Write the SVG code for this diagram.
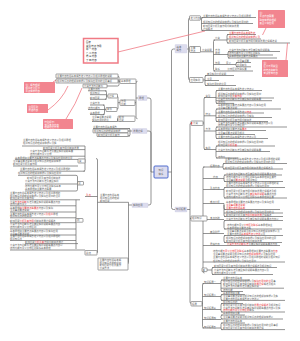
<svg xmlns="http://www.w3.org/2000/svg" width="300" height="341" viewBox="0 0 300 341">
<style>
.t{font-family:"Noto Sans CJK SC","Noto Sans",sans-serif;font-size:2.4px;fill:#666}
.r{fill:#e8363c}
.w{fill:#fff}
.k{fill:#222}
.c{fill:none;stroke:#666;stroke-width:0.7}
.rl{fill:none;stroke:#f07a84;stroke-width:0.8}
.lav{fill:#dcdcee;stroke:#c6c6de;stroke-width:0.3}
.bx{fill:#fff;stroke:#666;stroke-width:0.6}
.pk{fill:#f2858f}
</style>
<rect width="300" height="341" fill="#fff"/>
<g id="connectors">
<path class="c" d="M154 172H151V100Q151 98 149 98H147M151 172V133Q151 131 149 131H147M151 172V203Q151 205 149 205H148"/>
<path class="c" d="M168 172H171.5V51Q171.5 49 173.5 49H175M171.5 172V207.5Q171.5 209.5 173.5 209.5H175"/>
<path class="c" d="M187 49H188.5M190 18Q188.5 18 188.5 19.5V78.5Q188.5 80 190 80"/>
<path class="c" d="M200.5 18H201.5M203 17.5Q201.5 17.5 201.5 19V29Q201.5 30.5 203 30.5M201.5 17.5H256M201.5 23.5H253M201.5 30.5H249"/>
<path class="c" d="M200.5 51.8H213.5M215 40Q213.5 40 213.5 41.5V69.5Q213.5 71 215 71M213.5 40H226M213.5 54.5H227M213.5 64.5H235M213.5 71H226"/>
<path class="c" d="M226 40H227M228.5 34.5Q227 34.5 227 36V41.5Q227 43 228.5 43M227 34.5H256M227 39H261M227 43H290"/>
<path class="c" d="M227 54.5H228M229.5 51.5Q228 51.5 228 53V56.5Q228 58 229.5 58M228 51.5H280M228 55H273M228 58H277"/>
<path class="c" d="M235 64.5H236M237.5 62.5Q236 62.5 236 64V65.3Q236 66.8 237.5 66.8M236 62.5H251M236 66.8H251M226 71H253"/>
<path class="c" d="M203 80H205M206.5 75.5Q205 75.5 205 77V84Q205 85.5 206.5 85.5M205 75.5H234M205 80.5H219M205 85.5H236"/>
<path class="c" d="M138 98H136M137.5 81.3Q136 81.3 136 82.8V117.2Q136 118.7 137.5 118.7M136 102.7H135"/>
<path class="c" d="M120 81.3H119M117.5 76Q119 76 119 77.5V84.5Q119 86 117.5 86M119 81H118M118 76H117.5M107 86H117.5"/>
<path class="c" d="M120 102.7H118M116.5 96Q118 96 118 97.5V108Q118 109.5 116.5 109.5H117M108 96H116.5"/>
<path class="c" d="M108 96H106.5M105 90.8Q106.5 90.8 106.5 92.3V97.8Q106.5 99.3 105 99.3M106.5 90.8H88M106.5 94.7H90M106.5 99.3H90"/>
<path class="c" d="M106 109.5H104.5M103 105Q104.5 105 104.5 106.5V113Q104.5 114.5 103 114.5M104.5 105H90M104.5 109.5H88M104.5 114.5H90"/>
<path class="c" d="M118 118.7H117.5V121.5H92"/>
<path class="c" d="M132 131H130M128.5 128.5Q130 128.5 130 130V134.5Q130 136 128.5 136M130 128.5H93M130 131H128M130 136H97"/>
<path class="c" d="M132 205H128.5M128.5 202.3V262.5Q128.5 264 127 264M128.5 202.3H97.5"/>
<path class="c" d="M97.5 160V252Q97.5 253 96.5 253M97.5 196.5H85M97.5 160Q97.5 158.5 96 158.5"/>
<path class="c" d="M85 146V169.5Q85 171.2 83.5 171.2M22 146H85M43 149.6H85M30 156.2H85M15 159.4H85M13 166H78M20 171.2H85"/>
<path class="c" d="M77.5 176.8V189.5Q77.5 191 76 191M18 175.3H76Q77.5 175.3 77.5 176.8M25 184H77.5M25 191H76"/>
<path class="c" d="M10 199.8H80M10 205.8H76M10 212H76M10 217.8H76M10 222.7H76M10 229H76M10 235H76M10 240.5H76M25 243.6H78M10 250H85M76 199.8V249"/>
<path class="c" d="M187 209.5H190M191.5 123Q190 123 190 124.5V302Q190 303.5 191.5 303.5M190 218.5H191"/>
<path class="c" d="M203 123H204M205.5 97.5Q204 97.5 204 99V148Q204 149.5 205.5 149.5M204 115.8H215M204 131H215M204 97.5H215M204 149.5H215"/>
<path class="c" d="M215 97.5H216M217.5 90.5Q216 90.5 216 92V101.9Q216 103.4 217.5 103.4M216 90.5H262M216 98H274M216 100.7H272M216 103.4H234"/>
<path class="c" d="M215 115.8H216M217.5 109Q216 109 216 110.5V120Q216 121.5 217.5 121.5M216 109H281M216 113H264M216 117.5H272M216 121.5H268"/>
<path class="c" d="M215 131H216M217.5 127Q216 127 216 128.5V137Q216 138.5 217.5 138.5M216 127H287M216 130.5H266M216 134.5H255M216 138.5H268"/>
<path class="c" d="M215 149.5H216M217.5 146Q216 146 216 147.5V156.5Q216 158 217.5 158M216 146H275M216 151.5H270M216 158H238"/>
<path class="c" d="M207 218.5H203M204.5 167Q203 167 203 168.5V271.5Q203 273 204.5 273M203 167H222M203 178.5H222M203 189.5H223M203 203.5H222M203 219.5H222M203 233.5H222M203 245.5H222M203 262H285"/>
<path class="c" d="M222 167H223M224.5 163.5Q223 163.5 223 165V167.5Q223 169 224.5 169M223 163.5H287M223 169H283"/>
<path class="c" d="M222 178.5H224M225.5 175Q224 175 224 176.5V180Q224 181.5 225.5 181.5M224 175H282M224 181.5H283"/>
<path class="c" d="M223 189.5H224M225.5 187.5Q224 187.5 224 189V196.5Q224 198 225.5 198M224 187.5H285M224 198H287"/>
<path class="c" d="M222 203.5H224M225.5 209.5Q224 209.5 224 208V205M224 203.5V215Q224 216.5 225.5 216.5M224 209.5H280M224 213H283M224 216.5H283"/>
<path class="c" d="M222 219.5H224M225.5 220.5Q224 220.5 224 222V227.5Q224 229 225.5 229M224 220.5H283M224 229H282"/>
<path class="c" d="M222 233.5H224M225.5 235.5Q224 235.5 224 237V241Q224 242.5 225.5 242.5M224 235.5H283M224 242.5H282"/>
<path class="c" d="M222 245.5H280"/>
<path class="c" d="M207 270H212M213.5 267.5Q212 267.5 212 269V273Q212 274.5 213.5 274.5M212 267.5H277M212 274.5H273"/>
<path class="c" d="M202 303.5H202.5M204 283.5Q202.5 283.5 202.5 285V326.5Q202.5 328 204 328M202.5 296.5H219M202.5 309.5H219M202.5 319.5H219M202.5 283.5H219"/>
<path class="c" d="M219 283.5H221M222.5 280Q221 280 221 281.5V290Q221 291.5 222.5 291.5M221 280H250M221 288.2H284M221 291.5H243"/>
<path class="c" d="M219 296.5H221M222.5 294.6Q221 294.6 221 296.1V298.9Q221 300.4 222.5 300.4M221 294.6H245M221 300.4H285"/>
<path class="c" d="M219 309.5H221M222.5 303.5Q221 303.5 221 305V310.5Q221 312 222.5 312M221 303.5H243M221 312H285"/>
<path class="c" d="M219 319.5H221M222.5 315Q221 315 221 316.5V317.5Q221 319 222.5 319M221 315H245M221 319H283"/>
<path class="c" d="M202.5 328H221M222.5 323Q221 323 221 324.5V328.1Q221 329.6 222.5 329.6M221 323H245M221 329.6H285"/>
<path class="rl" d="M118 52L205 31M266 28L262.5 35M286 60L287.5 43M53 82L58 79M48 110Q62 100 68 86M66 119Q76 104 82 88"/>
</g>
<g id="center"><rect x="154" y="166" width="14" height="12" rx="1" fill="#dcdcee" stroke="#3f5fc8" stroke-width="0.9"/><text class="t" x="161" y="171.2" text-anchor="middle">知识</text><text class="t" x="161" y="175" text-anchor="middle">体系</text></g>
<g id="n-top"><rect class="lav" x="175" y="44.5" width="12" height="8.5" rx="0.8"/><text class="t" x="176.5" y="48">基本</text><text class="t" x="176.5" y="51.3">概念</text></g>
<g id="n-t1"><rect class="bx" x="189.5" y="15.8" width="11" height="4.4" rx="0.6"/><text class="t" x="190.5" y="18.9">定义内容</text></g>
<g id="t1-leaves"><text class="t" x="203" y="16.8">主要内容包括基本概念定义特点以及相关原理</text><text class="t" x="203" y="22.8">相关知识点的理解和掌握以及实际应用中的</text><text class="t" x="203" y="26.8">影响因素分析及其作用机制和发展</text><text class="t" x="203" y="29.8">过程概述</text></g>
<g id="n-t2"><rect class="bx" x="189.5" y="46.5" width="11" height="6" rx="0.6"/><text class="t" x="190.5" y="49.2">主要</text><text class="t" x="190.5" y="52">特点</text><text class="t" x="202" y="51.2">分类说明</text></g>
<g id="t2-children"><text class="t" x="215" y="39.3">分类</text><text class="t r" x="229" y="33.8">主要内容包括基本概念定</text><text class="t r" x="229" y="38.3">相关知识点的理解和掌握以及</text><text class="t" x="229" y="42.3">影响因素分析及其作用机制和发展过程概述说</text><text class="t" x="215" y="50.8">方法</text><text class="t" x="215" y="53.8">原理</text><text class="t" x="229" y="50.8">分类方法与判断标准及典型实例说明等</text><text class="t" x="229" y="54.3">结构功能与意义比较区别联系</text><text class="t" x="229" y="57.3">基本原理和主要特点等要点</text><text class="t" x="215" y="63.8">作用</text><text class="t" x="226" y="63.8">意义</text><text class="t" x="237" y="61.8">注意事项要</text><text class="t" x="237" y="66.1">应用条件</text><text class="t" x="215" y="70.3">联系</text><text class="t" x="227.5" y="70.3">比较区别与联系要</text></g>
<g id="n-t3"><rect class="bx" x="189.5" y="77.5" width="13.5" height="5" rx="0.6"/><text class="t" x="190.5" y="80.9">应用实例</text><text class="t" x="207" y="74.8">典型实例分析说明</text><text class="t" x="207" y="79.8">注意</text><text class="t" x="207" y="84.8">实际应用中的注意</text></g>
<g id="note-a"><rect class="pk" x="258" y="10" width="27" height="18" rx="0.5"/><text class="t w" x="259.5" y="13.8">注：</text><text class="t w" x="259.5" y="17.3">重点内容需要</text><text class="t w" x="259.5" y="20.8">熟练掌握并理解</text><text class="t w" x="259.5" y="24.3">其含义和应用</text></g>
<g id="note-b"><rect class="pk" x="262" y="60" width="26" height="17" rx="0.5"/><text class="t w" x="263.5" y="63.8">注：</text><text class="t w" x="263.5" y="67.3">区分不同类型</text><text class="t w" x="263.5" y="70.8">的特点和条件</text><text class="t w" x="263.5" y="74.3">考试常考内容</text></g>
<g id="note-c"><rect x="83.5" y="38.5" width="34.5" height="24.5" fill="#fff" stroke="#f07a84" stroke-width="1.5"/><text class="t k" x="86" y="43">图表</text><text class="t k" x="86" y="46.5">类型 特点 作用</text><text class="t k" x="86" y="50">甲 一 内容</text><text class="t k" x="86" y="53.5">乙 二 内容</text><text class="t k" x="86" y="57">丙 三 内容</text><text class="t k" x="86" y="60.5">丁 四 内容</text></g>
<g id="note-d"><rect class="pk" x="24" y="82" width="31" height="11" rx="0.5"/><text class="t w" x="25.5" y="85.5">注：概念理解</text><text class="t w" x="25.5" y="88.5">相关定义区分</text><text class="t w" x="25.5" y="91.5">重点掌握内容</text></g>
<g id="note-e"><rect class="pk" x="27" y="104" width="21" height="9" rx="0.5"/><text class="t w" x="28.5" y="107.5">注意区别</text><text class="t w" x="28.5" y="111">易混内容</text></g>
<g id="note-f"><rect class="pk" x="43" y="119" width="30" height="10" rx="0.5"/><text class="t w" x="44.5" y="122.5">特别提示：</text><text class="t w" x="44.5" y="125.5">常见考点内容</text><text class="t w" x="44.5" y="128.3">理解记忆方法</text></g>
<g id="n-lu"><rect class="lav" x="138" y="95.5" width="9" height="5" rx="0.6"/><text class="t" x="139" y="98.9">原理</text></g>
<g id="n-lu1"><rect class="bx" x="120" y="79" width="16" height="4.5" rx="0.6"/><text class="t" x="121" y="82.2">基本原理</text><rect class="bx" x="56" y="74" width="62" height="4" rx="0.3"/><text class="t" x="57" y="76.9">主要内容包括基本概念定义特点以及相关原理的说明</text><rect class="bx" x="56" y="79" width="62" height="4" rx="0.3"/><text class="t" x="57" y="81.9">相关知识点的理解和掌握以及实际应用中的注意事项</text><rect class="bx" x="83" y="84.2" width="24" height="3.6" rx="0.3"/><text class="t" x="84" y="86.9">分类方法与判断标</text></g>
<g id="n-lu2"><rect class="bx" x="120" y="100" width="15" height="5.5" rx="0.6"/><text class="t" x="121" y="102.3">作用</text><text class="t" x="121" y="104.8">机制</text><rect class="bx" x="108" y="94" width="9.5" height="4" rx="0.5"/><text class="t" x="109" y="96.9">过程</text><rect class="bx" x="106" y="107.5" width="11" height="4" rx="0.5"/><text class="t" x="107" y="110.4">条件</text><text class="t" x="88" y="90.4">主要内容包</text><text class="t" x="90" y="94.2">相关知识</text><text class="t" x="90" y="98.8">影响因素</text><text class="t" x="90" y="104.3">分类方法</text><text class="t" x="88" y="108.8">结构功能与</text><text class="t" x="90" y="113.8">基本原理</text></g>
<g id="n-lu3"><rect class="bx" x="118" y="116" width="17" height="5.5" rx="0.6"/><text class="t" x="119" y="118.3">影响</text><text class="t" x="119" y="120.9">因素</text><text class="t" x="92" y="117.8">注意事项要点说明</text><text class="t" x="92" y="120.8">实际应用中的注</text></g>
<g id="n-lm"><rect class="lav" x="132" y="128.5" width="15" height="5" rx="0.6"/><text class="t" x="133" y="131.9">发展过程</text><text class="t" x="93" y="127.8">主要内容包括基本概念</text><rect class="bx" x="93" y="129.2" width="35" height="3.6" rx="0.3"/><text class="t" x="94" y="131.9">相关知识点的理解和掌握</text><rect class="bx" x="97" y="133" width="31" height="3.5" rx="0.3"/><text class="t" x="98" y="135.6">影响因素分析及其作</text></g>
<g id="n-ll"><rect class="lav" x="132" y="203" width="16" height="4.5" rx="0.6"/><text class="t" x="133" y="206.2">实践应用</text><text class="t" x="100" y="196">主要内容包括基本</text><text class="t" x="100" y="198.8">相关知识点的理解</text><text class="t" x="100" y="201.5">影响因素</text><rect class="bx" x="98" y="258" width="30" height="12" rx="0.3"/><text class="t" x="99.5" y="261">主要内容包括基本概</text><text class="t" x="99.5" y="263.5">相关知识点的理解和</text><text class="t" x="99.5" y="266">影响因素分析及其作</text><text class="t" x="99.5" y="268.5">分类方法</text></g>
<g id="ll-sub"><text class="t r" x="86" y="196">重点</text><rect class="bx" x="85" y="250.5" width="12" height="4.5" rx="0.5"/><text class="t" x="86" y="253.6">总结</text><rect class="bx" x="78" y="159" width="7" height="4" rx="0.5"/><text class="t" x="79" y="161.9">类</text><rect class="bx" x="77.5" y="181.5" width="6" height="3.5" rx="0.5"/><text class="t" x="78.3" y="184">型</text><rect class="bx" x="76" y="218.5" width="7" height="3.7" rx="0.5"/><text class="t" x="77" y="221.3">例</text></g>
<g id="ll-leaves"><text class="t" x="23" y="141.3">主要内容包括基本概念定义特点以及相关原理</text><text class="t" x="23" y="144">相关知识点的理解和掌握以及实</text><text class="t" x="43" y="148.7">影响因素分析及其作用机制和发展</text><text class="t" x="30" y="152.3">分类方法与判断标准及典型实例说明等要</text><text class="t" x="30" y="155">结构功能与意义比较</text><text class="t" x="15" y="158.6">基本原理和主要特点等要点内容以及实际应用中的注意</text><text class="t" x="13" y="162.2">注意事项要点说明及相关知识点的理解和掌握</text><text class="t" x="13" y="165">影响因素分析及其作用</text><text class="t" x="20" y="170.3">主要内容包括基本概念定义特点以及相关原理的</text><text class="t" x="18" y="174.3">相关知识点的理解和掌握以及实际应用中</text><text class="t" x="27" y="179.2">影响因素分析及其作用机制和发</text><text class="t" x="25" y="182.2">分类方法与判断标准及典型实例</text><text class="t" x="25" y="187">结构功能与意义比较区别联系基本</text><text class="t" x="25" y="189.8">基本原理和主要特点等要</text><text class="t" x="10" y="193.8">主要内容包括基本概念定义特点以及相关原理的</text><text class="t" x="10" y="196.5">相关知识点的理解和掌握以及实际应用中的注意</text><text class="t" x="10" y="199.2">影响因素分析及其作用</text><text class="t" x="10" y="202.5">分类<tspan class="r">方法与判断</tspan>标准及典型实例说明等要点内容</text><text class="t" x="10" y="205.2">结构功能与意义</text><text class="t" x="10" y="208.5">基本原理<tspan class="r">和主要特点等要点</tspan>内容以及实际</text><text class="t" x="10" y="211.2">注意事项要点说明</text><text class="t" x="10" y="214.5">主要内容包括基本概念定义特点<tspan class="r">以及相关</tspan>原理</text><text class="t" x="10" y="217.2">相关知识点的理解和</text><text class="t" x="10" y="221.8">影响因素<tspan class="r">分析及其作用</tspan>机制和发展过程概述</text><text class="t" x="10" y="225">分类方法与判断标准及典型实例说明等要点内容</text><text class="t" x="10" y="227.8">结构功能与意义比较区别</text><text class="t" x="10" y="231.8">基本原理和主要特点等要点内容以及实际应用</text><text class="t" x="10" y="234.5">注意事项要点说明</text><text class="t" x="10" y="237.2">主要内容包括基本概念定义特点以及相关原理的</text><text class="t" x="10" y="239.9">相关知识点</text><text class="t" x="25" y="242.9">影响因素<tspan class="r">分析及其</tspan>作用机制和发展过</text><text class="t" x="10" y="246.2">分类方法与判断标准及典型实例说明等要点内容以</text><text class="t" x="10" y="249">结构功能与意义比较区别联系基本原理</text></g>
<g id="n-rb"><rect class="lav" x="175" y="207" width="12" height="5" rx="0.6"/><text class="t" x="176" y="210.4">知识拓展</text></g>
<g id="n-a"><rect class="bx" x="191" y="121" width="12" height="4.5" rx="0.6"/><rect x="191.2" y="122" width="1" height="2.5" fill="#e8363c"/><text class="t" x="193" y="124.2">分类</text>
<text class="t" x="205.5" y="96.8">类型</text><text class="t" x="205.5" y="115">特征</text><text class="t" x="205.5" y="130.3">方法</text><text class="t" x="205.5" y="148.8">实例</text>
<text class="t" x="218" y="89.8">主要内容包括基本概念定义特点以</text><text class="t" x="218" y="94.5">相关知识点的理解和掌握以及实际应用中</text><text class="t" x="218" y="97.3">影响因素分析<tspan class="r">及其作用</tspan></text><text class="t" x="218" y="100">分类方法与判断标准及典型实例说明等要</text><text class="t" x="218" y="102.8">结构功</text>
<text class="t" x="218" y="105.8">基本原理和主要特点等要点内容以及实际应用</text><text class="t" x="218" y="108.5">注意事项要点说明</text><text class="t" x="218" y="112.5">主要内容包括基本概念定<tspan class="r">义特点</tspan></text><text class="t" x="218" y="117">相关知识点的理解和掌握以及实际</text><text class="t" x="218" y="121">影响因素分析及其作用机制和发</text>
<text class="t" x="218" y="123.6">分类方法与判断标准及典型实例说明等要点内容以及</text><text class="t" x="218" y="126.3">结构功能与意义比较区别</text><text class="t" x="218" y="130">基本原理和主要特点等<tspan class="r">要点</tspan></text><text class="t" x="218" y="134">注意事项要点说明及相关</text><text class="t" x="218" y="138">主要内容包括基本概念定义特点以及</text>
<text class="t" x="218" y="142.5">相关知识点的理解和掌握以及实际应用中的</text><text class="t" x="218" y="145.5">影响因素<tspan class="r">分析及其</tspan></text><text class="t" x="218" y="151">分类方法与判断标准及典型实例说明等要</text><text class="t" x="218" y="157.5">结构功</text></g>
<g id="n-b"><rect class="bx" x="191" y="216" width="16" height="5" rx="0.6"/><text class="t" x="192" y="219.4">相关知识</text>
<text class="t" x="210" y="166.5">拓展内容</text><text class="t" x="213" y="178">内容</text><text class="t" x="210" y="189">重点内容</text><text class="t" x="210" y="203">难点分析</text><text class="t" x="210" y="219">考点归纳</text><text class="t" x="210" y="233">典型例题</text><text class="t" x="210" y="245">易错内容</text>
<text class="t" x="225" y="160.3">主要内容包括基本概念定义特点以及相关原理的说明</text><text class="t" x="225" y="163">相关知识点的理解和掌握以及实际应用中的注意</text><text class="t" x="225" y="168.5">影响因素分析及其作用机制和发展过程概述及</text>
<text class="t" x="226" y="174.5">分类方法与判断标准及典型实例说明等要点内容</text><text class="t" x="226" y="178">结构功能与意义比较区别联系基本原理和主要特</text><text class="t" x="226" y="181">注意事项<tspan class="r">要点说明</tspan>及相关知识</text>
<text class="t" x="226" y="184">主要内容包括基本概念定义特点以及相关原理的说</text><text class="t" x="226" y="187">相关知识点的理解和掌握以及实际应用中</text><text class="t" x="226" y="191.5">影响因素分析及其作用机制和发展过程概述及相</text><text class="t" x="226" y="194.5">分类方法与判断标准及<tspan class="r">典型实例说明</tspan>等要点内容</text><text class="t" x="226" y="197.5">结构功能与意义比较区别联系基本原理和主要</text>
<text class="t" x="226" y="203">基本原理和主要特点等要点内容以及实际应用</text><text class="t" x="226" y="206"><tspan class="r">注意事项要点说明</tspan></text><text class="t" x="226" y="209"><tspan class="r">主要内容包括基本</tspan></text><text class="t" x="226" y="212.5">相关知识点的理解和掌握以及实际应用中的注</text><text class="t" x="226" y="216">影响因素分析及其<tspan class="r">作用机制和发展</tspan>过程概述</text>
<text class="t" x="226" y="220">分类方法与判断标准及典型实例说明等要点内容以</text><text class="t" x="227" y="225.5">结构功能与意义<tspan class="r">比较区别联系</tspan>基本原理和主</text><text class="t" x="227" y="228.5">基本原理和主要特点等</text>
<text class="t" x="227" y="232">注意事项要点说明及相关知识点的理解和掌握以及</text><text class="t" x="227" y="235">主要内容包括<tspan class="r">基本概念定义特点</tspan>以及</text><text class="t" x="226" y="239">相关知识点的理解和掌握以及实际应用中的注意</text><text class="t" x="226" y="242">影响因素分析及其作用机制和发展</text>
<text class="t" x="227" y="245"><tspan class="r">分类方法与判断标准</tspan>及典型实例说明等要点内容</text>
<text class="t" x="213" y="251.5">结构功能<tspan class="r">与意义比较区别联系</tspan>基本原理和主要特点等要点<tspan class="r">内容</tspan></text><text class="t" x="213" y="254.5">注意事项要点说明及相关知识点的<tspan class="r">理解和掌握</tspan>以及实际应用</text><text class="t" x="213" y="258">主要内容包括基本概念定义特点以及相关原理的说明及相关知识</text><text class="t" x="213" y="261.5">相关知识点的理解和掌握以及实际应用中</text>
<rect class="bx" x="202" y="268" width="5" height="3.6" rx="0.4"/><text class="t" x="202.6" y="270.6">其</text><text class="t" x="214" y="266.8">影响因素分析及其作用机制和发展过程概述及相关知识</text><text class="t" x="214" y="270.5">分类方法与判断标准及典型实例说明等要点内容以及</text><text class="t" x="214" y="273.8">结构功能与意义比较</text></g>
<g id="n-c"><rect class="bx" x="191" y="301.5" width="11" height="4.5" rx="0.6"/><text class="t" x="192" y="304.7">拓展</text>
<text class="t" x="204" y="283">知识拓展一</text><text class="t" x="204" y="296">知识拓展二</text><text class="t" x="204" y="309">知识拓展三</text><text class="t" x="204" y="319">知识拓展四</text><text class="t" x="204" y="327.5">知识拓展五</text>
<text class="t" x="223" y="279.3">主要内容包括基本</text><text class="t" x="223" y="282">相关知识点的理解和掌握以及<tspan class="r">实际应用中的注</tspan>意事</text><text class="t" x="223" y="284.7">影响因素分析及其作用机制和<tspan class="r">发展过程</tspan>概述及相关</text><text class="t" x="223" y="287.4">分类方法与判断标准及典型实例说</text><text class="t" x="223" y="290.8">结构功能</text>
<text class="t" x="223" y="294">基本原理和主要</text><text class="t" x="223" y="297">注意事项要点说明及相关知识点的理解和掌握以及实</text><text class="t" x="223" y="299.7">主要内容包括基本概念定义特点以</text>
<text class="t" x="223" y="302.8">相关知识点的</text><text class="t" x="223" y="305.8">影响因素分析及其作用机制和<tspan class="r">发展过程概述</tspan>及相关知识</text><text class="t" x="223" y="308.5">分类方法与判断标准及典型实例说明等要点内容以及实</text><text class="t" x="223" y="311.2"><tspan class="r">结构功能与意义比较区别</tspan>联系</text>
<text class="t" x="223" y="314.3">基本原理和主要</text><text class="t" x="223" y="318.3">注意事项要点说明及相关知识点的理解和掌握以</text>
<text class="t" x="223" y="322.3">主要内容包括基本</text><text class="t" x="223" y="326">相关知识点的理解和掌握以及实际应用中的注意事项</text><text class="t" x="223" y="328.8">影响因素分析及其作用机制和发展过程</text></g>
</svg>
